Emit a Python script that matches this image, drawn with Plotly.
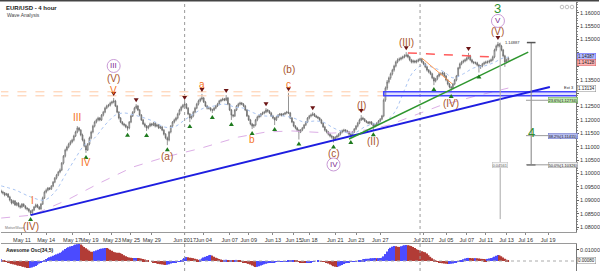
import plotly.graph_objects as go

# ---------------- data ----------------
first_bar = -12          # bar index of the first 4h candle (bar 0 = May 11 00:00)
first_open = 1.0935

close = [
 1.0931,1.0928,1.0920,1.0924,1.0913, 1.0901,1.0890,1.0898,1.0883,1.0890,
 1.0879,1.0875,1.0886,1.0879,1.0871, 1.0868,1.0860,1.0853,1.0864,1.0875,
 1.0883,1.0875,1.0868,1.0886,1.0909, 1.0931,1.0938,1.0946,1.0942,1.0953,
 1.0968,1.0983,1.0994,1.1006,1.1013, 1.1039,1.1065,1.1088,1.1099,1.1110,
 1.1118,1.1125,1.1140,1.1155,1.1170, 1.1162,1.1144,1.1125,1.1103,1.1088,
 1.1110,1.1133,1.1155,1.1177,1.1192, 1.1200,1.1207,1.1200,1.1218,1.1229,
 1.1244,1.1252,1.1255,1.1263,1.1267, 1.1271,1.1252,1.1229,1.1207,1.1192,
 1.1185,1.1181,1.1174,1.1170,1.1192, 1.1215,1.1229,1.1244,1.1252,1.1237,
 1.1218,1.1200,1.1185,1.1177,1.1170, 1.1177,1.1185,1.1181,1.1188,1.1177,
 1.1181,1.1170,1.1174,1.1162,1.1147, 1.1133,1.1125,1.1155,1.1177,1.1192,
 1.1200,1.1207,1.1222,1.1237,1.1248, 1.1255,1.1259,1.1244,1.1222,1.1207,
 1.1215,1.1229,1.1244,1.1259,1.1271, 1.1278,1.1282,1.1267,1.1252,1.1244,
 1.1244,1.1237,1.1237,1.1244,1.1252, 1.1259,1.1271,1.1274,1.1278,1.1274,
 1.1282,1.1259,1.1237,1.1218,1.1215, 1.1237,1.1252,1.1259,1.1263,1.1259,
 1.1252,1.1237,1.1215,1.1200,1.1185, 1.1177,1.1181,1.1200,1.1211,1.1215,
 1.1222,1.1226,1.1229,1.1237,1.1233, 1.1226,1.1215,1.1207,1.1200,1.1211,
 1.1218,1.1222,1.1218,1.1222,1.1226, 1.1229,1.1226,1.1207,1.1192,1.1177,
 1.1170,1.1162,1.1155,1.1162,1.1170, 1.1181,1.1192,1.1207,1.1215,1.1218,
 1.1222,1.1215,1.1211,1.1207,1.1200, 1.1188,1.1174,1.1162,1.1155,1.1147,
 1.1140,1.1136,1.1129,1.1136,1.1140, 1.1147,1.1155,1.1159,1.1162,1.1159,
 1.1155,1.1147,1.1144,1.1155,1.1166, 1.1177,1.1188,1.1200,1.1207,1.1203,
 1.1196,1.1192,1.1188,1.1192,1.1185, 1.1177,1.1181,1.1188,1.1196,1.1203,
 1.1215,1.1274,1.1319,1.1342,1.1357, 1.1372,1.1386,1.1401,1.1416,1.1424,
 1.1427,1.1431,1.1435,1.1439,1.1442, 1.1435,1.1424,1.1416,1.1420,1.1416,
 1.1420,1.1424,1.1427,1.1416,1.1409, 1.1398,1.1386,1.1379,1.1372,1.1357,
 1.1345,1.1353,1.1364,1.1372,1.1372, 1.1375,1.1364,1.1349,1.1334,1.1323,
 1.1319,1.1334,1.1349,1.1364,1.1394, 1.1409,1.1416,1.1420,1.1424,1.1431,
 1.1439,1.1424,1.1416,1.1413,1.1413, 1.1405,1.1398,1.1401,1.1409,1.1413,
 1.1416,1.1416,1.1420,1.1424,1.1435, 1.1461,1.1476,1.1483,1.1476,1.1461,
 1.1439,1.1416,1.1424,1.1431,
]

high = [
 1.0940,1.0936,1.0931,1.0928,1.0927, 1.0917,1.0905,1.0902,1.0901,1.0894,
 1.0893,1.0884,1.0890,1.0889,1.0882, 1.0875,1.0871,1.0863,1.0867,1.0879,
 1.0888,1.0887,1.0879,1.0890,1.0914, 1.0936,1.0944,1.0950,1.0949,1.0957,
 1.0972,1.0987,1.0999,1.1010,1.1019, 1.1043,1.1069,1.1093,1.1104,1.1115,
 1.1124,1.1130,1.1145,1.1160,1.1177, 1.1174,1.1166,1.1149,1.1130,1.1107,
 1.1114,1.1138,1.1160,1.1182,1.1197, 1.1205,1.1212,1.1211,1.1222,1.1234,
 1.1249,1.1257,1.1260,1.1268,1.1272, 1.1282,1.1275,1.1256,1.1233,1.1211,
 1.1196,1.1189,1.1185,1.1178,1.1196, 1.1219,1.1233,1.1249,1.1259,1.1256,
 1.1241,1.1222,1.1204,1.1190,1.1181, 1.1181,1.1190,1.1189,1.1192,1.1192,
 1.1186,1.1185,1.1178,1.1178,1.1166, 1.1151,1.1138,1.1159,1.1181,1.1196,
 1.1205,1.1212,1.1227,1.1242,1.1253, 1.1260,1.1267,1.1263,1.1248,1.1226,
 1.1220,1.1234,1.1249,1.1264,1.1276, 1.1283,1.1297,1.1286,1.1271,1.1256,
 1.1249,1.1248,1.1242,1.1248,1.1256, 1.1264,1.1275,1.1279,1.1283,1.1282,
 1.1293,1.1286,1.1263,1.1241,1.1222, 1.1241,1.1256,1.1264,1.1268,1.1267,
 1.1263,1.1256,1.1241,1.1219,1.1204, 1.1189,1.1185,1.1204,1.1216,1.1220,
 1.1226,1.1231,1.1234,1.1244,1.1241, 1.1237,1.1230,1.1219,1.1211,1.1215,
 1.1222,1.1226,1.1226,1.1226,1.1230, 1.1234,1.1300,1.1230,1.1211,1.1196,
 1.1181,1.1174,1.1166,1.1166,1.1174, 1.1185,1.1196,1.1211,1.1219,1.1224,
 1.1229,1.1226,1.1219,1.1215,1.1211, 1.1204,1.1192,1.1178,1.1166,1.1159,
 1.1151,1.1145,1.1140,1.1140,1.1145, 1.1151,1.1160,1.1164,1.1167,1.1166,
 1.1163,1.1159,1.1151,1.1159,1.1170, 1.1181,1.1193,1.1205,1.1218,1.1212,
 1.1207,1.1200,1.1196,1.1196,1.1196, 1.1189,1.1185,1.1192,1.1200,1.1207,
 1.1219,1.1280,1.1325,1.1349,1.1362, 1.1377,1.1391,1.1406,1.1421,1.1430,
 1.1433,1.1436,1.1440,1.1445,1.1453, 1.1447,1.1439,1.1428,1.1425,1.1424,
 1.1425,1.1429,1.1432,1.1431,1.1420, 1.1413,1.1402,1.1390,1.1384,1.1376,
 1.1361,1.1357,1.1368,1.1377,1.1378, 1.1380,1.1379,1.1368,1.1353,1.1338,
 1.1327,1.1338,1.1353,1.1368,1.1398, 1.1414,1.1421,1.1425,1.1429,1.1436,
 1.1450,1.1443,1.1428,1.1420,1.1418, 1.1417,1.1409,1.1405,1.1413,1.1418,
 1.1421,1.1422,1.1425,1.1429,1.1440, 1.1466,1.1481,1.1491,1.1487,1.1480,
 1.1465,1.1443,1.1429,1.1436,
]

low = [
 1.0926,1.0922,1.0915,1.0917,1.0909, 1.0896,1.0885,1.0886,1.0879,1.0878,
 1.0874,1.0869,1.0871,1.0875,1.0866, 1.0862,1.0855,1.0845,1.0850,1.0860,
 1.0871,1.0871,1.0864,1.0865,1.0883, 1.0905,1.0926,1.0934,1.0938,1.0939,
 1.0949,1.0964,1.0978,1.0990,1.1001, 1.1009,1.1034,1.1060,1.1083,1.1094,
 1.1105,1.1113,1.1120,1.1136,1.1150, 1.1157,1.1139,1.1120,1.1098,1.1077,
 1.1084,1.1105,1.1128,1.1150,1.1172, 1.1187,1.1195,1.1195,1.1196,1.1213,
 1.1225,1.1240,1.1247,1.1250,1.1258, 1.1262,1.1248,1.1225,1.1202,1.1188,
 1.1180,1.1176,1.1169,1.1160,1.1165, 1.1188,1.1211,1.1225,1.1240,1.1233,
 1.1214,1.1196,1.1181,1.1172,1.1159, 1.1165,1.1173,1.1176,1.1177,1.1172,
 1.1173,1.1166,1.1166,1.1158,1.1142, 1.1128,1.1106,1.1120,1.1150,1.1173,
 1.1187,1.1195,1.1202,1.1217,1.1232, 1.1243,1.1250,1.1240,1.1218,1.1192,
 1.1202,1.1210,1.1225,1.1240,1.1254, 1.1266,1.1273,1.1263,1.1248,1.1239,
 1.1239,1.1232,1.1226,1.1233,1.1240, 1.1248,1.1255,1.1266,1.1270,1.1270,
 1.1270,1.1255,1.1233,1.1200,1.1209, 1.1211,1.1233,1.1247,1.1254,1.1255,
 1.1248,1.1233,1.1211,1.1196,1.1180, 1.1166,1.1170,1.1176,1.1195,1.1206,
 1.1210,1.1218,1.1221,1.1225,1.1228, 1.1222,1.1211,1.1203,1.1181,1.1196,
 1.1207,1.1214,1.1213,1.1214,1.1218, 1.1221,1.1222,1.1203,1.1188,1.1173,
 1.1165,1.1157,1.1127,1.1151,1.1158, 1.1166,1.1177,1.1188,1.1202,1.1210,
 1.1214,1.1211,1.1207,1.1203,1.1196, 1.1184,1.1170,1.1157,1.1150,1.1142,
 1.1135,1.1130,1.1116,1.1124,1.1131, 1.1135,1.1142,1.1150,1.1154,1.1154,
 1.1150,1.1142,1.1133,1.1140,1.1151, 1.1162,1.1172,1.1184,1.1196,1.1199,
 1.1192,1.1188,1.1184,1.1183,1.1181, 1.1162,1.1172,1.1177,1.1184,1.1192,
 1.1199,1.1210,1.1268,1.1312,1.1336, 1.1350,1.1366,1.1380,1.1396,1.1411,
 1.1419,1.1422,1.1426,1.1430,1.1434, 1.1430,1.1419,1.1411,1.1411,1.1411,
 1.1411,1.1415,1.1419,1.1412,1.1404, 1.1393,1.1381,1.1374,1.1367,1.1352,
 1.1330,1.1340,1.1348,1.1359,1.1366, 1.1367,1.1359,1.1344,1.1329,1.1318,
 1.1304,1.1314,1.1329,1.1344,1.1360, 1.1389,1.1404,1.1411,1.1415,1.1419,
 1.1426,1.1419,1.1411,1.1408,1.1407, 1.1400,1.1377,1.1390,1.1396,1.1404,
 1.1408,1.1410,1.1411,1.1415,1.1419, 1.1430,1.1456,1.1470,1.1471,1.1456,
 1.1434,1.1398,1.1411,1.1418,
]

# Awesome Oscillator (34,5), in thousandths of a price unit
ao_milli = [
 1.5,1.0,0.3,-0.5,-1.2, -2.0,-2.6,-3.0,-3.4,-3.9,
 -4.2,-4.5,-4.9,-5.3,-5.8, -6.3,-6.4,-6.2,-5.8,-5.3,
 -4.5,-3.5,-2.2,-1.2,-0.2, 0.8,1.8,2.7,3.4,4.0,
 4.7,5.4,6.0,6.7,7.5, 8.5,9.6,10.8,11.8,12.5,
 13.2,13.7,14.3,14.9,15.3, 15.5,15.1,14.0,12.8,11.6,
 10.5,9.4,8.5,8.3,8.9, 9.6,10.2,10.8,11.2,11.5,
 11.8,11.7,11.2,10.3,9.2, 8.3,7.9,7.6,7.4,7.1,
 6.3,5.3,4.3,3.6,3.2, 2.9,2.7,2.7,2.8,2.7,
 2.6,2.2,1.8,1.3,0.9, 0.5,0.0,-0.6,-1.2,-1.7,
 -2.2,-2.6,-2.9,-3.2,-3.5, -3.6,-3.4,-2.9,-2.3,-1.8,
 -1.5,-1.2,-0.9,-0.4,0.5, 1.6,2.7,3.6,3.4,3.0,
 2.8,2.6,2.1,1.5,1.0, 1.3,2.2,3.2,3.8,4.5,
 5.2,5.5,4.9,3.9,3.0, 2.5,1.9,1.3,0.9,1.0,
 1.1,1.0,0.9,0.9,0.8, 0.9,1.0,0.9,0.4,-0.4,
 -1.1,-1.6,-2.1,-2.6,-3.2, -4.0,-4.8,-5.5,-5.3,-4.8,
 -4.2,-3.6,-3.0,-2.5,-2.0, -1.8,-1.5,-1.2,-1.0,-0.9,
 -0.9,-0.9,-0.9,-0.7,-0.5, -0.2,0.1,0.4,0.7,0.9,
 0.8,0.1,-0.6,-1.1,-1.5, -1.7,-1.8,-1.8,-1.6,-1.1,
 -0.6,-0.2,0.0,0.1,0.0, -0.1,-0.4,-0.9,-1.5,-2.3,
 -3.1,-3.9,-4.7,-5.3,-5.5, -5.0,-4.3,-3.6,-2.8,-2.0,
 -1.4,-1.0,-0.9,-0.9,-0.8, -0.5,0.0,0.5,1.0,1.5,
 1.8,2.0,2.1,2.3,2.5, 2.6,2.7,2.6,2.6,2.7,
 3.0,4.2,6.3,8.7,10.9, 12.0,13.0,13.6,13.3,12.9,
 12.8,13.3,13.9,14.3,14.5, 14.3,14.0,13.6,12.8,11.7,
 10.8,10.1,9.5,8.9,8.3, 7.9,6.8,5.3,3.8,2.6,
 1.3,0.2,-0.6,-1.2,-1.7, -2.0,-2.3,-2.6,-2.8,-2.7,
 -2.5,-2.2,-1.8,-1.2,-0.5, 0.2,0.9,1.6,2.2,2.7,
 2.8,2.7,2.6,2.5,2.6, 2.4,2.2,2.0,1.9,1.8,
 1.7,1.9,2.3,2.7,3.1, 3.9,4.8,5.5,5.2,4.3,
 3.1,2.0,1.2,0.8,
]

tick_bars = [0, 14, 29, 39, 52, 63, 75, 94, 105, 120, 131, 145, 157, 166,
             181, 193, 207, 232, 245, 257, 268, 280, 291, 304]
tick_text = ["May 11", "May 14", "May 17", "May 19", "May 23", "May 25", "May 29",
             "Jun 2017", "Jun 04", "Jun 07", "Jun 09", "Jun 13", "Jun 15", "Jun 18",
             "Jun 21", "Jun 23", "Jun 27", "Jul 2017", "Jul 05", "Jul 07", "Jul 11",
             "Jul 13", "Jul 16", "Jul 19"]
month_start_bars = [94, 230]

price_ticks = [1.080, 1.085, 1.090, 1.095, 1.100, 1.105, 1.110, 1.115, 1.120,
               1.125, 1.130, 1.135, 1.140, 1.145, 1.150, 1.155, 1.160]
# ticks whose labels sit under the price boxes on the right axis
covered_ticks = [1.130, 1.140, 1.145]

peak_bars = [53, 66, 94, 104, 118, 141, 154, 168, 196, 222, 258, 275]
peak_prices = [1.1282, 1.1259, 1.1267, 1.1297, 1.1293, 1.1244, 1.1300, 1.1229,
               1.1218, 1.1453, 1.1450, 1.1491]
trough_bars = [5, 37, 61, 72, 84, 97, 110, 121, 133, 146, 160, 180, 190, 203, 238, 248, 264]
trough_prices = [1.0845, 1.1077, 1.1160, 1.1159, 1.1106, 1.1192, 1.1226, 1.1200,
                 1.1166, 1.1181, 1.1127, 1.1116, 1.1133, 1.1162, 1.1330, 1.1304, 1.1377]

fast_ma_bars = [-12, -4, 5, 13, 19, 25, 31, 36, 42, 48, 54, 59, 65, 71, 77, 82, 88, 94,
                100, 105, 111, 117, 123, 128, 134, 140, 146, 151, 157, 163, 169, 174,
                180, 186, 192, 198, 203, 209, 215, 221, 226, 232, 238, 244, 249, 255,
                261, 267, 272, 278, 281]
fast_ma = [1.0954, 1.0939, 1.0913, 1.0901, 1.0931, 1.0994, 1.1058, 1.1106, 1.1133,
           1.1181, 1.1218, 1.1226, 1.1218, 1.1207, 1.1192, 1.1174, 1.1174, 1.1200,
           1.1226, 1.1244, 1.1252, 1.1259, 1.1248, 1.1244, 1.1226, 1.1215, 1.1215,
           1.1215, 1.1207, 1.1192, 1.1196, 1.1192, 1.1170, 1.1155, 1.1151, 1.1174,
           1.1185, 1.1192, 1.1226, 1.1312, 1.1379, 1.1405, 1.1394, 1.1379, 1.1357,
           1.1372, 1.1394, 1.1401, 1.1412, 1.1431, 1.1434]
slow_ma_bars = [-12, 6, 26, 45, 64, 83, 102, 114, 125, 141, 156, 167, 179, 191, 202,
                212, 223, 241, 262, 281]
slow_ma = [1.0834, 1.0845, 1.0901, 1.0965, 1.1024, 1.1062, 1.1092, 1.1114, 1.1136,
           1.1155, 1.1159, 1.1155, 1.1151, 1.1155, 1.1166, 1.1181, 1.1207, 1.1252,
           1.1289, 1.1319]

# drawn tools (anchor values)
zone_prices = [1.1290, 1.1305]
zone_start_bar = 209
blue_trend = [(5, 1.0845), (305, 1.1323)]
green_trend = [(189, 1.1129), (292.5, 1.1453)]
red_resist = [(223, 1.1450), (271, 1.1435)]
orange_trend = [(231, 1.1431), (248.5, 1.1335)]
fib_top = 1.14887
fib_levels = [1.12734, 1.11415, 1.10326]
fib_names = ["23.6%", "38.2%", "50.0%"]

# wave labels: text, pivot bar, pivot price, style
wave_labels = [
    ("I", 6, 1.0867, "minor"), ("(IV)", 5, 1.0845, "inter_lo"),
    ("III", 32, 1.1177, "minor"), ("IV", 37, 1.1077, "minor_lo"),
    ("V", 53, 1.1282, "minor_t"), ("(V)", 53, 1.1282, "inter_2"),
    ("(a)", 84, 1.1106, "inter_lo"), ("a", 104, 1.1297, "minor"),
    ("b", 133, 1.1166, "minor_lo"), ("c", 154, 1.1300, "minor"),
    ("(b)", 154, 1.1300, "inter_3"), ("(c)", 180, 1.1116, "inter_lo"),
    ("(I)", 196, 1.1218, "inter"), ("(II)", 203, 1.1162, "inter_lo"),
    ("(III)", 222, 1.1453, "inter"), ("(IV)", 248, 1.1304, "inter_lo"),
    ("(V)", 275, 1.1491, "inter"),
]
circled_labels = [("III", 53, 1.1282, 32), ("IV", 180, 1.1116, -22), ("V", 275, 1.1491, 21)]

# ---------------- figure ----------------
n = len(close)
assert len(high) == n and len(low) == n and len(ao_milli) == n, (len(close), len(high), len(low), len(ao_milli))
bars = list(range(first_bar, first_bar + n))
opens = [first_open] + close[:-1]
ao = [v / 1000 for v in ao_milli]

ORANGE = "#f5731c"
BROWN = "#a8532c"
PURPLE = "#7e2a91"
GREEN = "#2f8f2f"
FONT = "Arial"

fig = go.Figure()

fig.add_trace(go.Scatter(x=slow_ma_bars, y=slow_ma, mode="lines",
                         line=dict(color="#dcaee6", width=1, dash="dash"), hoverinfo="skip"))
fig.add_trace(go.Scatter(x=fast_ma_bars, y=fast_ma, mode="lines", line_shape="spline",
                         line=dict(color="#a9c4f2", width=1, dash="dot"), hoverinfo="skip"))

fig.add_trace(go.Candlestick(
    x=bars, open=opens, high=high, low=low, close=close,
    increasing=dict(line=dict(color="#666666", width=0.7), fillcolor="#f4f4f4"),
    decreasing=dict(line=dict(color="#666666", width=0.7), fillcolor="#959595"),
    whiskerwidth=0, hoverinfo="skip"))

ao_colors = ["#4b4bff"] + ["#4b4bff" if ao[i] >= ao[i - 1] else "#b23c36" for i in range(1, n)]
fig.add_trace(go.Bar(x=bars, y=ao, marker=dict(color=ao_colors, line=dict(width=0)),
                     xaxis="x2", yaxis="y2", hoverinfo="skip"))

shapes = []
for b in month_start_bars:
    shapes.append(dict(type="line", xref="x", yref="paper", x0=b, x1=b, y0=0, y1=1,
                       line=dict(color="#9a9a9a", width=1, dash="dot")))
for p in zone_prices:
    shapes.append(dict(type="line", xref="x", yref="y", x0=first_bar - 1, x1=zone_start_bar, y0=p, y1=p,
                       line=dict(color="#ffcaa6", width=1, dash="dash")))
shapes.append(dict(type="rect", xref="x", yref="y", x0=zone_start_bar, x1=330,
                   y0=zone_prices[0], y1=zone_prices[1],
                   line=dict(color="#4646ff", width=1.5), fillcolor="rgba(140,140,255,0.25)"))
for (pts, col, wid, dash) in [(blue_trend, "#1e1ee0", 2, "solid"), (green_trend, "#2e962e", 1.5, "solid"),
                              (red_resist, "#ff5c5c", 1.5, "dash"), (orange_trend, "#ff9a52", 1, "solid")]:
    shapes.append(dict(type="line", xref="x", yref="y", x0=pts[0][0], y0=pts[0][1],
                       x1=pts[1][0], y1=pts[1][1], line=dict(color=col, width=wid, dash=dash)))

# pivot markers (small triangles just above highs / below lows)
for b, p in zip(peak_bars, peak_prices):
    shapes.append(dict(type="path", xref="x", yref="y", xsizemode="pixel", ysizemode="pixel",
                       xanchor=b, yanchor=p, path="M -2.5,6 L 2.5,6 L 0,2 Z",
                       fillcolor="#6b1414", line=dict(width=0)))
for b, p in zip(trough_bars, trough_prices):
    shapes.append(dict(type="path", xref="x", yref="y", xsizemode="pixel", ysizemode="pixel",
                       xanchor=b, yanchor=p, path="M -2.5,-6 L 2.5,-6 L 0,-2 Z",
                       fillcolor="#1e7a1e", line=dict(width=0)))

# measurement line from the (V) high and the fib tool
shapes.append(dict(type="line", xref="x", yref="y", x0=276.3, x1=276.3, y0=fib_top, y1=1.0830,
                   line=dict(color="#a8a8a8", width=1)))
fib_x = 294.2
shapes.append(dict(type="line", xref="x", yref="y", x0=fib_x, x1=fib_x, y0=fib_top, y1=fib_levels[-1],
                   line=dict(color="#808080", width=1)))
for p in [fib_top, fib_levels[-1]]:
    shapes.append(dict(type="line", xref="x", yref="y", x0=fib_x - 2.5, x1=fib_x + 2.5, y0=p, y1=p,
                       line=dict(color="#555555", width=1.5)))
for p in fib_levels:
    shapes.append(dict(type="line", xref="x", yref="y", x0=fib_x - 3, x1=304, y0=p, y1=p,
                       line=dict(color="#9a9a9a", width=1)))
# AO zero line
shapes.append(dict(type="line", xref="paper", yref="y2", x0=0, x1=1, y0=0, y1=0,
                   line=dict(color="#aaaaaa", width=1, dash="dot")))
# circled wave labels
for (t, b, p, dy) in circled_labels:
    shapes.append(dict(type="circle", xref="x", yref="y", xsizemode="pixel", ysizemode="pixel",
                       xanchor=b, yanchor=p, x0=-6.5, x1=6.5, y0=dy - 6.5, y1=dy + 6.5,
                       line=dict(color="#c99ad6", width=1)))
# frame and toolbar dots
shapes.append(dict(type="line", xref="paper", yref="paper", x0=-0.01, x1=1.04, y0=1.006, y1=1.006,
                   line=dict(color="#444444", width=2)))
for dx in (-14, -9, -4):
    shapes.append(dict(type="circle", xref="paper", yref="paper", xsizemode="pixel", ysizemode="pixel",
                       xanchor=1, yanchor=1, x0=dx - 1.8, x1=dx + 1.8, y0=-6.8, y1=-3.2,
                       line=dict(color="#b0b0b0", width=0.8)))

ann = []
style = {
    "minor": (ORANGE, 10, 9), "minor_t": (ORANGE, 10, 7), "minor_lo": (ORANGE, 10, -10),
    "inter": (BROWN, 10, 10), "inter_lo": (BROWN, 10, -11),
    "inter_2": (BROWN, 10, 19.5), "inter_3": (BROWN, 10, 24),
}
for (t, b, p, s) in wave_labels:
    col, sz, dy = style[s]
    ann.append(dict(x=b, y=p, xref="x", yref="y", text=t, showarrow=False, yshift=dy,
                    font=dict(family=FONT, size=sz, color=col)))
for (t, b, p, dy) in circled_labels:
    ann.append(dict(x=b, y=p, xref="x", yref="y", text=t, showarrow=False, yshift=dy,
                    font=dict(family=FONT, size=8, color=PURPLE)))
ann.append(dict(x=275, y=1.1491, xref="x", yref="y", text="3", showarrow=False, yshift=33,
                font=dict(family=FONT, size=13, color=GREEN)))
ann.append(dict(x=fib_x, y=fib_levels[1], xref="x", yref="y", text="4", showarrow=False, yshift=3,
                font=dict(family=FONT, size=13, color=GREEN)))

fib_bg = ["#bfe8ae", "#b6bdf0", "#f0f0f0"]
fib_bd = ["#6aaa55", "#6a72c8", "#999999"]
for name, p, bg, bd in zip(fib_names, fib_levels, fib_bg, fib_bd):
    ann.append(dict(x=304, y=p, xref="x", yref="y", xanchor="left", text=f"{name}({p:.5f})",
                    showarrow=False, bgcolor=bg, bordercolor=bd, borderwidth=0.5, borderpad=0,
                    font=dict(family=FONT, size=4, color="#222")))
ann.append(dict(x=278, y=fib_top, xref="x", yref="y", xanchor="left", text=f"{fib_top:.5f}",
                showarrow=False, font=dict(family=FONT, size=4, color="#333")))
ann.append(dict(x=276.3, y=1.1032, xref="x", yref="y", text="0.04561", showarrow=False,
                bgcolor="#f4f4f4", bordercolor="#bbbbbb", borderwidth=0.5, borderpad=0,
                font=dict(family=FONT, size=4, color="#666")))
ann.append(dict(x=1, y=zone_prices[1], xref="paper", yref="y", xanchor="right", yanchor="bottom",
                text="Ext 3", showarrow=False, font=dict(family=FONT, size=4, color="#222")))

# right-axis value boxes
for (p, txt, bg, bd) in [(1.1438, "1.14387", "#b3b9ff", "#5a5aff"),
                         (1.1413, "1.14128", "#ffb3b3", "#d45a5a"),
                         (1.1319, "1.13134", "#ffffff", "#888888")]:
    ann.append(dict(x=1, y=p, xref="paper", yref="y", xanchor="left", xshift=1, text=txt,
                    showarrow=False, bgcolor=bg, bordercolor=bd, borderwidth=0.5, borderpad=0.5,
                    font=dict(family=FONT, size=4.5, color="#222")))
ann.append(dict(x=1, y=ao[-1], xref="paper", yref="y2", xanchor="left", xshift=1, text="0.00080",
                showarrow=False, bgcolor="#ffffff", bordercolor="#888888", borderwidth=0.5, borderpad=0.5,
                font=dict(family=FONT, size=4.5, color="#222")))

ann.append(dict(x=0, y=1, xref="paper", yref="paper", xanchor="left", yanchor="top", xshift=3, yshift=-1,
                text="<b>EUR/USD - 4 hour</b>", showarrow=False, font=dict(family=FONT, size=6, color="#222")))
ann.append(dict(x=0, y=1, xref="paper", yref="paper", xanchor="left", yanchor="top", xshift=4, yshift=-8,
                text="Wave Analysis", showarrow=False, font=dict(family=FONT, size=5, color="#444")))
ann.append(dict(x=0, y=0.145, xref="paper", yref="paper", xanchor="left", yanchor="bottom", xshift=2,
                text="MotiveWave", showarrow=False, font=dict(family=FONT, size=3.5, color="#777")))
ann.append(dict(x=0, y=0.1004, xref="paper", yref="paper", xanchor="left", yanchor="top", xshift=3, yshift=-1,
                text="<b>Awesome Osc(34,5)</b>", showarrow=False, font=dict(family=FONT, size=5, color="#222")))

price_text = ["" if any(abs(t - c) < 1e-9 for c in covered_ticks) else f"{t:.5f}" for t in price_ticks]

xr = [-12.09, 320.09]
fig.update_layout(
    width=600, height=271, margin=dict(l=1, r=22, t=2, b=0),
    paper_bgcolor="white", plot_bgcolor="white", showlegend=False, bargap=0.15,
    shapes=shapes, annotations=ann,
    xaxis=dict(domain=[0, 1], range=xr, anchor="y", tickmode="array", tickvals=tick_bars, ticktext=tick_text,
               tickangle=0, tickfont=dict(family=FONT, size=5.5, color="#333"), ticks="outside", ticklen=2,
               tickcolor="#888", showgrid=False, zeroline=False, showline=True, linecolor="#9a9a9a",
               rangeslider=dict(visible=False)),
    yaxis=dict(domain=[0.145, 1], range=[1.0782, 1.1640], side="right", tickmode="array",
               tickvals=price_ticks, ticktext=price_text, tickfont=dict(family=FONT, size=5.5, color="#333"),
               ticks="outside", ticklen=2, tickcolor="#666", showgrid=False, zeroline=False,
               showline=True, linecolor="#777",
               minor=dict(ticks="outside", ticklen=1, tickcolor="#888", dtick=0.001)),
    xaxis2=dict(domain=[0, 1], range=xr, anchor="y2", matches="x", showticklabels=False, showgrid=False,
                zeroline=False, showline=True, linecolor="#9a9a9a", mirror=True),
    yaxis2=dict(domain=[0, 0.1004], range=[-0.00909, 0.015455], side="right", tickmode="array",
                tickvals=[0.01], ticktext=["0.01000"], tickfont=dict(family=FONT, size=5.5, color="#333"),
                ticks="outside", ticklen=2, showgrid=False, zeroline=False, showline=True, linecolor="#777"),
)

fig.write_html("out.html")
